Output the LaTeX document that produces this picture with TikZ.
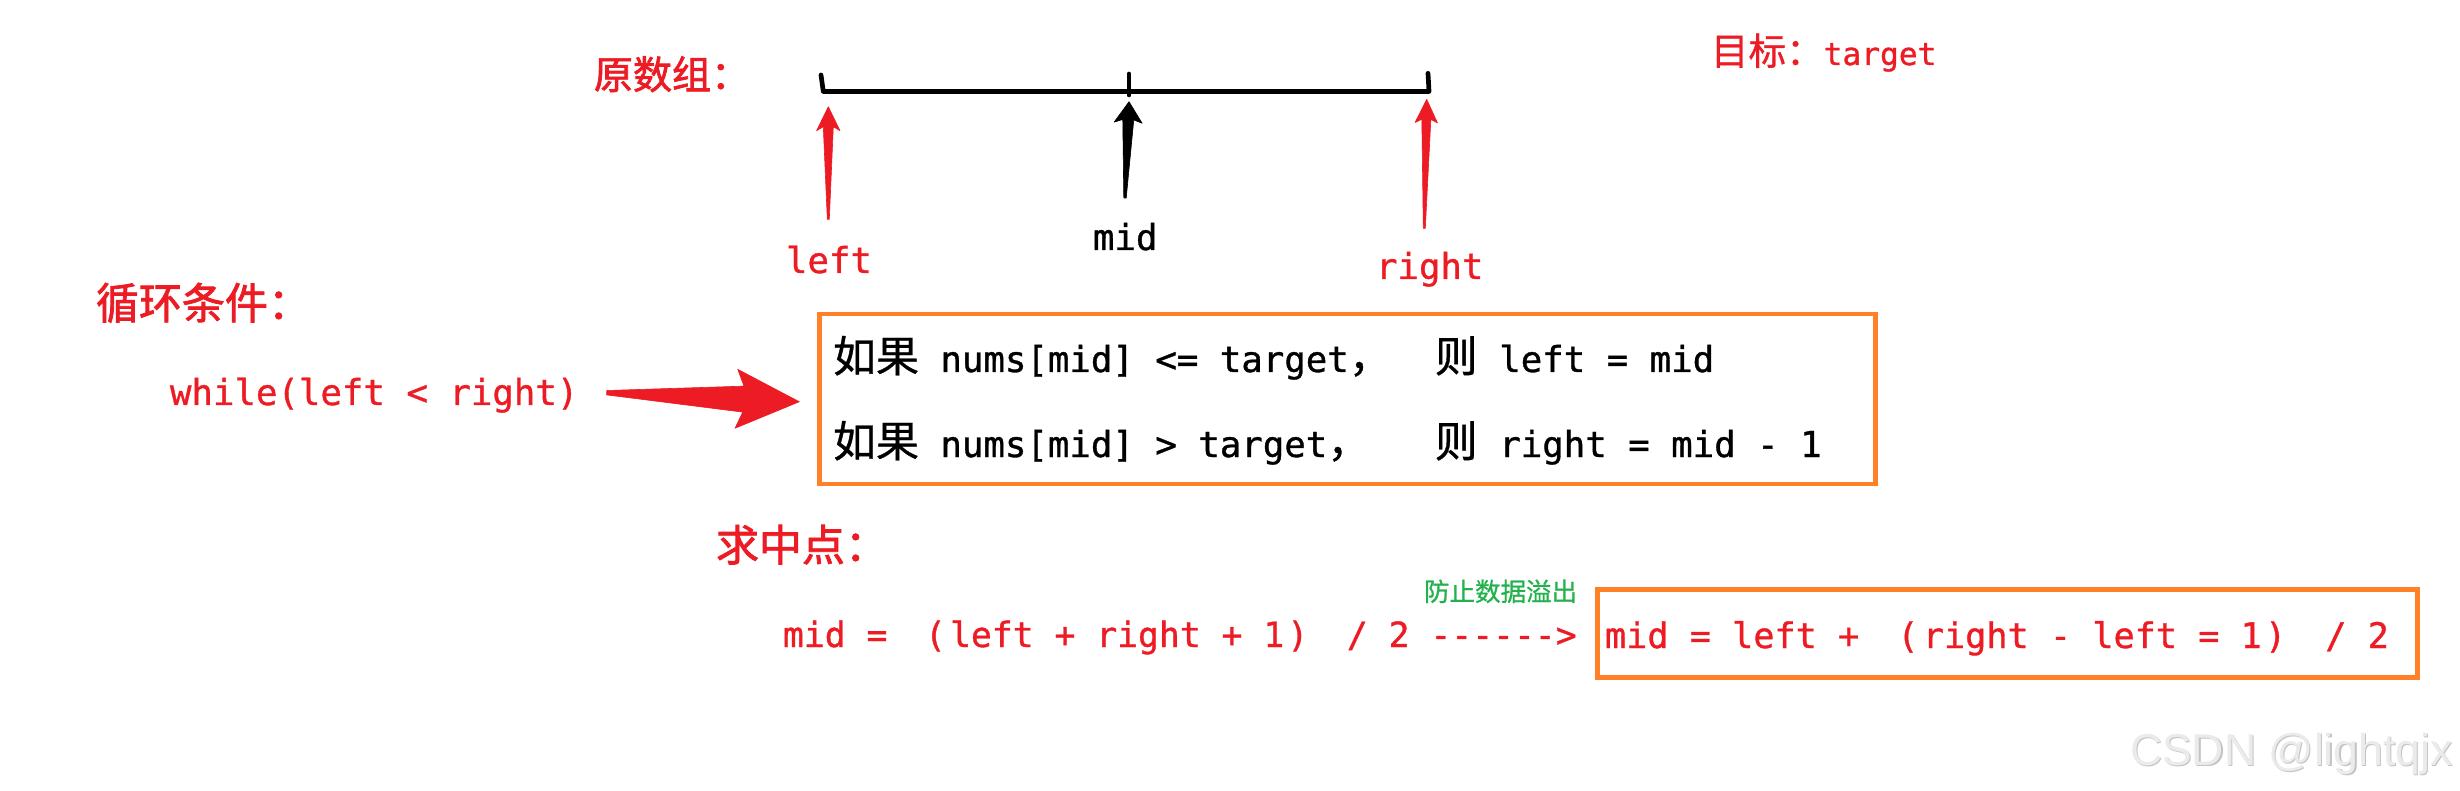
\documentclass[tikz,border=0pt]{standalone}
\usepackage{fontspec}
\usetikzlibrary{calc}
\newfontfamily\mono{DejaVu Sans Mono}[FakeBold=1]
\newfontfamily\cjk{Noto Sans CJK SC}[FakeBold=0.8]
\newfontfamily\cjkbf{Noto Sans CJK SC}[FakeBold=1.8]
\newfontfamily\wmfont{Liberation Sans}
\definecolor{myred}{HTML}{ED1C24}
\definecolor{myorange}{HTML}{FF8027}
\definecolor{mygreen}{HTML}{22B14C}
\definecolor{wmlight}{HTML}{EBEBEB}
\definecolor{wmdark}{HTML}{C4C4C4}
\makeatletter
\newcommand\zhc[1]{{\pgfmathsetmacro\zsz{1.2041*\f@size}\fontsize{\zsz pt}{\zsz pt}\selectfont\cjk #1}}
\newcommand\zhb[1]{{\pgfmathsetmacro\zsz{1.2041*\f@size}\fontsize{\zsz pt}{\zsz pt}\selectfont\cjkbf #1}}
\makeatother
\newcommand\hy{-\kern0pt}
% full-width style parentheses built from the monospace ones
\newcommand\lpar{\kern0.48em(\kern0.12em}
\newcommand\rpar{\kern0.09em)\kern0.51em}
% tapered filled arrow: tail, tip, colour, head length, notch distance, head half-width, shaft half-width, tail half-width
\newcommand\taper[8]{%
  \coordinate (tp-hb) at ($(#2)!#4pt!(#1)$);
  \coordinate (tp-nb) at ($(#2)!#5pt!(#1)$);
  \fill[#3, draw=#3, line width=0.6pt, line join=round]
    (#2) -- ($(tp-hb)!#6pt!90:(#2)$) -- ($(tp-nb)!#7pt!90:(#2)$)
    -- ($(#1)!#8pt!90:(#2)$) -- ($(#1)!#8pt!-90:(#2)$)
    -- ($(tp-nb)!#7pt!-90:(#2)$) -- ($(tp-hb)!#6pt!-90:(#2)$) -- cycle;
}
\tikzset{
  txt/.style={anchor=base west, inner sep=0pt, outer sep=0pt},
  fs/.style={font=\fontsize{#1}{#1}\selectfont\mono},
  obox/.style={draw=myorange, line width=4.5pt, inner sep=0pt, anchor=north west},
  tick/.style={line width=4.7pt, line cap=round, line join=round},
}
\begin{document}
\begin{tikzpicture}[x=1pt,y=-1pt]
\fill[white] (0,0) rectangle (2460,791);
\useasboundingbox (0,0) rectangle (2460,791);

% headings and labels
\node[txt, fs=32.4, text=myred] (hdarr) at (594,89) {\zhb{原数组：}};
\node[txt, fs=31.2, text=myred] (goal) at (1711,65) {\zhc{目标：}target};

% array line
\coordinate (tickLtop) at (821,75);
\coordinate (arrL) at (823.3,91.5);
\coordinate (arrR) at (1429,91.5);
\coordinate (tickRtop) at (1428,73.3);
\coordinate (tickMtop) at (1129,74);
\coordinate (tickMbot) at (1129,95);
\draw[tick] (tickLtop) -- (arrL) -- (arrR) -- (tickRtop);
\draw[tick] (tickMtop) -- (tickMbot);

% pointer labels
\node[txt, fs=35.7, text=myred] (lleft) at (786,273) {left};
\node[txt, fs=35.7] (lmid) at (1093,250) {mid};
\node[txt, fs=35.7, text=myred] (lright) at (1376,279) {right};

% pointer arrows
\coordinate (tipL) at (828.3,106.7);
\coordinate (tailL) at (828.3,219.3);
\coordinate (tipM) at (1129,101.7);
\coordinate (tailM) at (1125,198);
\coordinate (tipR) at (1426.7,99.3);
\coordinate (tailR) at (1424.3,228.3);
\taper{tailL}{tipL}{myred}{24}{20}{11.7}{5}{1}
\taper{tailM}{tipM}{black}{21}{18}{14}{5.5}{1.2}
\taper{tailR}{tipR}{myred}{23.4}{20}{11.2}{4.5}{1}

% loop condition
\node[txt, fs=35.7, text=myred] (cond) at (96,319) {\zhb{循环条件：}};
\node[txt, fs=35.7, text=myred] (while) at (170,405) {while(left < right)};
\node[obox, minimum width=1056pt, minimum height=170pt] (box1) at (817,311.7) {};
\node[txt, fs=35.7] (l1) at (833,372) {\zhc{如果} nums[mid] <= target\zhc{，}\ \ \zhc{则} left = mid};
\node[txt, fs=35.7] (l2) at (833,457) {\zhc{如果} nums[mid] > target\zhc{，}\ \ \ \zhc{则} right = mid - 1};
\coordinate (bigtail) at (606.7,392.7);
\coordinate (bigtip) at ($(box1.west)+(-17.7,2.8)$);
\taper{bigtail}{bigtip}{myred}{63}{56}{29.5}{13}{2.2}

% midpoint
\node[txt, fs=35.7, text=myred] (midhd) at (716,561) {\zhb{求中点：}};
\node[txt, fs=21.2, text=mygreen] (note) at (1424,601) {\zhc{防止数据溢出}};
\node[txt, fs=34.7, text=myred] (formula) at (783,647) {mid = \lpar left + right + 1\rpar\ / 2 \hy\hy\hy\hy\hy\hy>};
\node[obox, minimum width=820pt, minimum height=88pt] (box2) at (1595,587) {};
\node[txt, fs=35.2, text=myred] (f2) at (1605,648) {mid = left + \lpar right - left = 1\rpar\ / 2};

% watermark
\node[txt, font=\fontsize{44.6}{44.6}\selectfont\wmfont, text=wmdark] (wmshadow) at (2131.2,766.5) {CSDN @lightqjx};
\node[txt, font=\fontsize{44.6}{44.6}\selectfont\wmfont, text=wmlight] (wm) at (2130,765) {CSDN @lightqjx};
\end{tikzpicture}
\end{document}
